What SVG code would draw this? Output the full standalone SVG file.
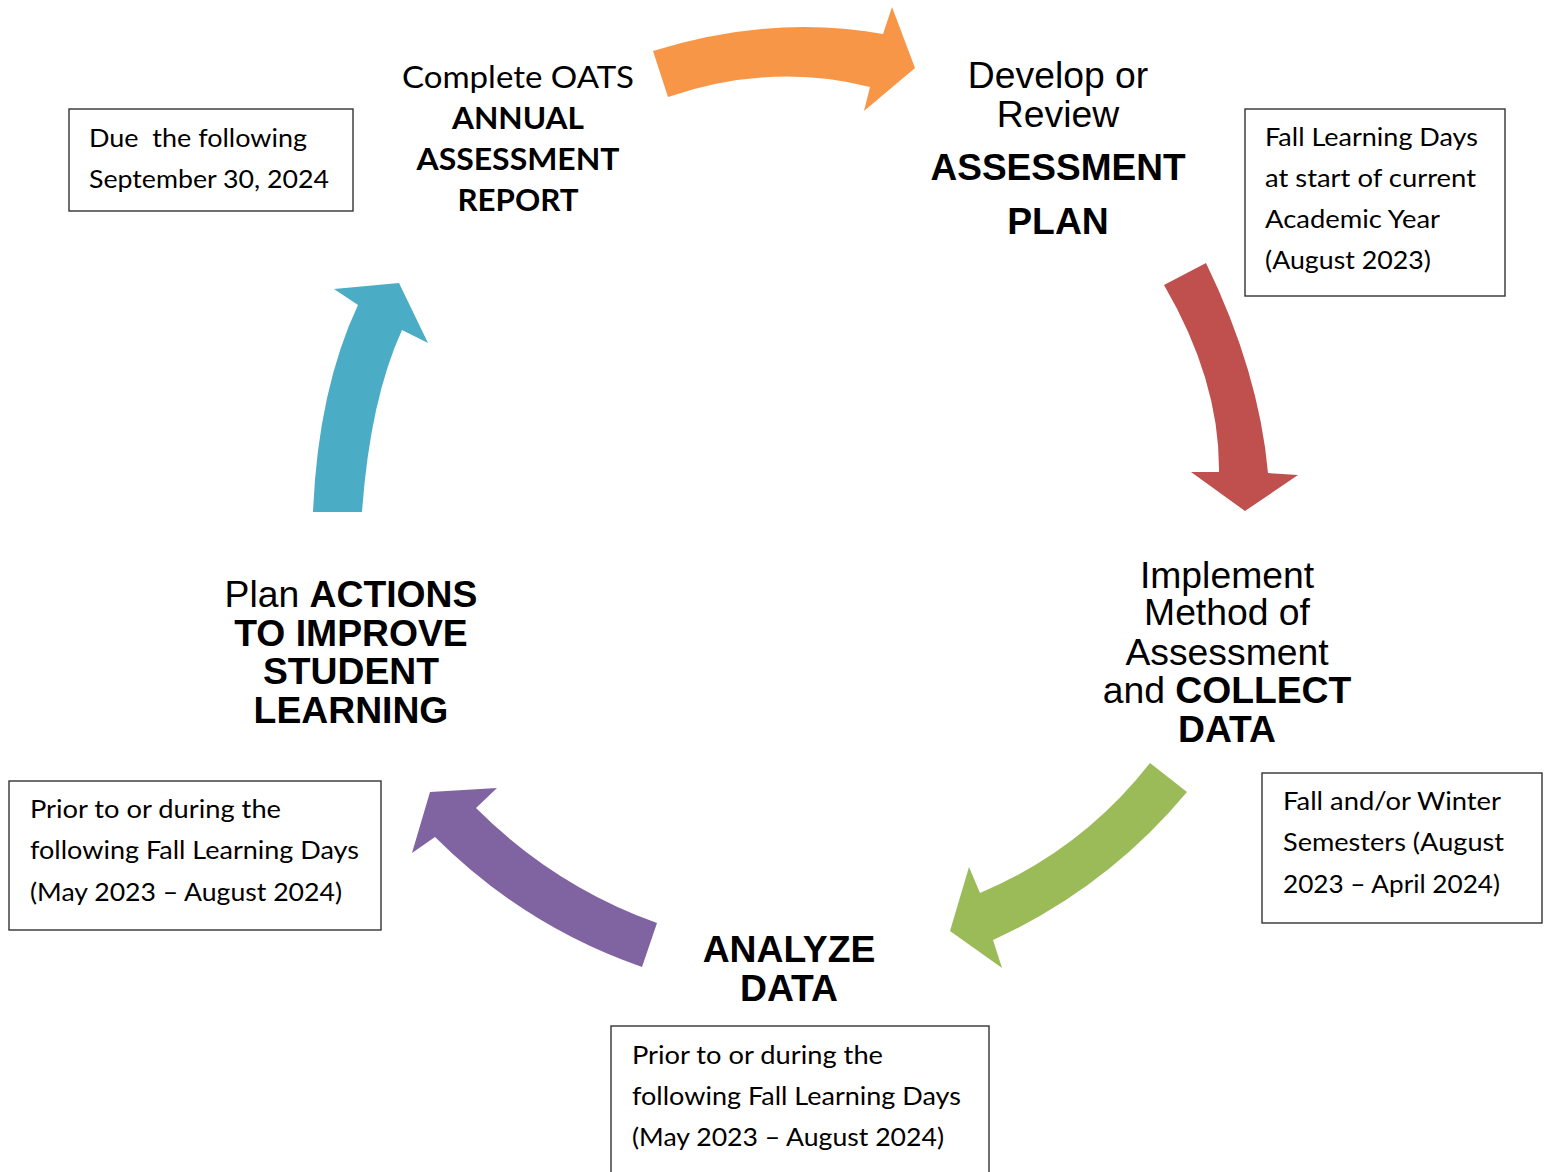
<svg xmlns="http://www.w3.org/2000/svg" width="1549" height="1172" viewBox="0 0 1549 1172">
<style>
.box{fill:#fff;stroke:#333;stroke-width:1.4}
.bt{font-family:Lato,"Liberation Sans",sans-serif;font-size:25px;fill:#000}
.cal{font-family:Lato,"Liberation Sans",sans-serif;font-size:31px;fill:#000;text-anchor:middle}
.ar{font-family:"Liberation Sans",Arial,sans-serif;font-size:37.3px;fill:#000;text-anchor:middle}
.b{font-weight:bold}
</style>
<rect width="1549" height="1172" fill="#fff"/>
<g id="connectors">
<path id="arrow-orange" fill="#F79646" d="M653,51 Q772,14 883,34 L892,7 L915,68 L864,111 L870,87 Q771,62 668,97 Z"/>
<path id="arrow-red" fill="#C0504D" d="M1164,285 L1206,263 Q1259,372 1268,473 L1298,475 L1245,511 L1191,472 L1219,472 Q1220,381 1164,285 Z"/>
<path id="arrow-green" fill="#9BBB59" d="M1150,763 L1187,792 Q1107,888 993,940 L1002,968 L950,931 L969,867 L980,893 Q1082,850 1150,763 Z"/>
<path id="arrow-purple" fill="#8064A2" d="M642,967 L657,923 Q554,886 476,808 L497,788 L430,792 L412,853 L435,837 Q524,926 642,967 Z"/>
<path id="arrow-blue" fill="#4BACC6" d="M313,512 L362,512 Q370,400 402,330 L428,343 L399,283 L334,289 L358,305 Q318,390 313,512 Z"/>
</g>
<g id="node-report">
<text class="cal" x="518" y="88" textLength="232" lengthAdjust="spacingAndGlyphs">Complete OATS</text>
<text class="cal b" x="518" y="129" textLength="132" lengthAdjust="spacingAndGlyphs">ANNUAL</text>
<text class="cal b" x="518" y="170" textLength="203" lengthAdjust="spacingAndGlyphs">ASSESSMENT</text>
<text class="cal b" x="518" y="211" textLength="121" lengthAdjust="spacingAndGlyphs">REPORT</text>
</g>
<g id="node-plan">
<text class="ar" x="1058" y="88">Develop or</text>
<text class="ar" x="1058" y="127">Review</text>
<text class="ar b" x="1058" y="180" textLength="255" lengthAdjust="spacingAndGlyphs">ASSESSMENT</text>
<text class="ar b" x="1058" y="234">PLAN</text>
</g>
<g id="node-collect">
<text class="ar" x="1227" y="588">Implement</text>
<text class="ar" x="1227" y="625">Method of</text>
<text class="ar" x="1227" y="665">Assessment</text>
<text class="ar" x="1227" y="703">and <tspan class="b">COLLECT</tspan></text>
<text class="ar b" x="1227" y="742">DATA</text>
</g>
<g id="node-analyze">
<text class="ar b" x="789" y="962">ANALYZE</text>
<text class="ar b" x="789" y="1001">DATA</text>
</g>
<g id="node-actions">
<text class="ar" x="351" y="607">Plan <tspan class="b">ACTIONS</tspan></text>
<text class="ar b" x="351" y="646">TO IMPROVE</text>
<text class="ar b" x="351" y="684">STUDENT</text>
<text class="ar b" x="351" y="723">LEARNING</text>
</g>
<g id="note-due">
<rect class="box" x="69" y="109" width="284" height="102"/>
<text class="bt" x="89" y="147" textLength="218" lengthAdjust="spacingAndGlyphs" xml:space="preserve">Due  the following</text>
<text class="bt" x="89" y="188" textLength="240" lengthAdjust="spacingAndGlyphs">September 30, 2024</text>
</g>
<g id="note-fall">
<rect class="box" x="1245" y="109" width="260" height="187"/>
<text class="bt" x="1265" y="146" textLength="213" lengthAdjust="spacingAndGlyphs">Fall Learning Days</text>
<text class="bt" x="1265" y="187" textLength="211" lengthAdjust="spacingAndGlyphs">at start of current</text>
<text class="bt" x="1265" y="228" textLength="175" lengthAdjust="spacingAndGlyphs">Academic Year</text>
<text class="bt" x="1265" y="269" textLength="166" lengthAdjust="spacingAndGlyphs">(August 2023)</text>
</g>
<g id="note-semesters">
<rect class="box" x="1262" y="773" width="280" height="150"/>
<text class="bt" x="1283" y="810" textLength="218" lengthAdjust="spacingAndGlyphs">Fall and/or Winter</text>
<text class="bt" x="1283" y="851" textLength="221" lengthAdjust="spacingAndGlyphs">Semesters (August</text>
<text class="bt" x="1283" y="893" textLength="217" lengthAdjust="spacingAndGlyphs">2023 – April 2024)</text>
</g>
<g id="note-actions">
<rect class="box" x="9" y="781" width="372" height="149"/>
<text class="bt" x="30" y="818" textLength="251" lengthAdjust="spacingAndGlyphs">Prior to or during the</text>
<text class="bt" x="30" y="859" textLength="329" lengthAdjust="spacingAndGlyphs">following Fall Learning Days</text>
<text class="bt" x="30" y="901" textLength="312" lengthAdjust="spacingAndGlyphs">(May 2023 – August 2024)</text>
</g>
<g id="note-analyze">
<rect class="box" x="611" y="1026" width="378" height="160"/>
<text class="bt" x="632" y="1064" textLength="251" lengthAdjust="spacingAndGlyphs">Prior to or during the</text>
<text class="bt" x="632" y="1105" textLength="329" lengthAdjust="spacingAndGlyphs">following Fall Learning Days</text>
<text class="bt" x="632" y="1146" textLength="312" lengthAdjust="spacingAndGlyphs">(May 2023 – August 2024)</text>
</g>
</svg>
